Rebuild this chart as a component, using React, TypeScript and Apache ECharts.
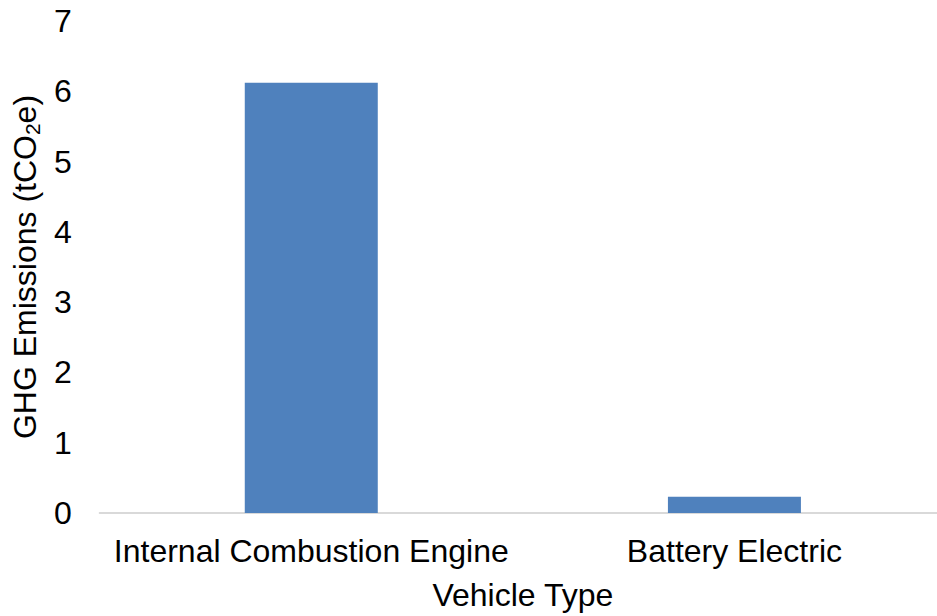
import React, { useEffect, useRef } from "react";
import * as echarts from "echarts";

const categories = ["Internal Combustion Engine", "Battery Electric"];
const emissions = [6.12, 0.23];
const yTicks = { min: 0, max: 7, interval: 1 };

export default function App() {
  const ref = useRef<HTMLDivElement>(null);
  useEffect(() => {
    const chart = echarts.init(ref.current!, undefined, { renderer: "svg" });
    const font = "'Liberation Sans', Arial, sans-serif";
    chart.setOption({
      animation: false,
      textStyle: { fontFamily: font, color: "#000" },
      grid: { left: 98.6, right: 0, top: 21, bottom: 98, containLabel: false },
      xAxis: {
        type: "category",
        data: categories,
        name: "Vehicle Type",
        nameLocation: "middle",
        nameGap: 66,
        nameTextStyle: { fontSize: 32, color: "#000", fontFamily: font },
        axisLine: { show: true, lineStyle: { color: "#d9d9d9", width: 2 } },
        axisTick: { show: false },
        axisLabel: { fontSize: 32, color: "#000", margin: 22, fontFamily: font, interval: 0 },
        splitLine: { show: false },
      },
      yAxis: {
        type: "value",
        min: yTicks.min,
        max: yTicks.max,
        interval: yTicks.interval,
        name: "{a|GHG Emissions (tCO}{s|2}{a|e)}",
        nameLocation: "middle",
        nameGap: 52,
        nameTextStyle: {
          fontFamily: font,
          color: "#000",
          rich: {
            a: { fontSize: 32, fontFamily: font, color: "#000", lineHeight: 36 },
            s: { fontSize: 21, fontFamily: font, color: "#000", lineHeight: 36, verticalAlign: "bottom", padding: [14, 0, 0, 0] },
          },
        },
        axisLine: { show: false },
        axisTick: { show: false },
        splitLine: { show: false },
        axisLabel: { fontSize: 32, color: "#000", margin: 28, fontFamily: font },
      },
      series: [
        {
          type: "bar",
          data: emissions,
          barWidth: 133,
          itemStyle: { color: "#4f81bd" },
        },
      ],
    });
    return () => chart.dispose();
  }, []);
  return (
    <div style={{ position: "absolute", left: 0, top: 0, width: 937, height: 616, overflow: "hidden", background: "#fff" }}>
      <div ref={ref} style={{ width: 946, height: 616 }} />
    </div>
  );
}
